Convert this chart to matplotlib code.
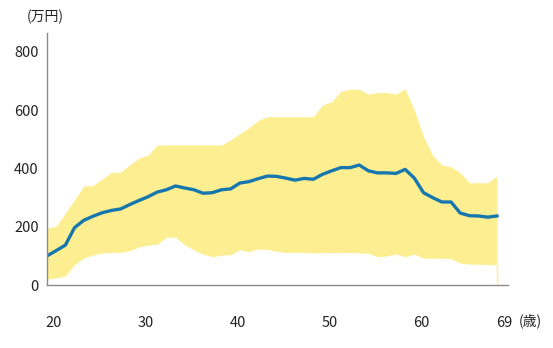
import matplotlib
matplotlib.use("Agg")
import matplotlib.pyplot as plt
import matplotlib.transforms as mtransforms
import numpy as np

# age 20..69
AGES = list(range(20, 70))
MEDIAN = [100, 118, 137, 197, 222, 236, 248, 256, 261, 276,
          290, 303, 319, 327, 340, 333, 327, 315, 317, 327,
          330, 350, 355, 365, 374, 373, 367, 360, 366, 363,
          380, 392, 403, 403, 412, 392, 385, 385, 383, 397,
          367, 317, 300, 285, 285, 247, 238, 237, 233, 237]
UPPER = [195, 202, 247, 292, 340, 341, 364, 386, 388, 412,
         436, 446, 481, 481, 481, 481, 481, 481, 481, 481,
         498, 520, 540, 565, 578, 578, 578, 578, 578, 578,
         618, 629, 665, 672, 672, 655, 661, 661, 656, 673,
         600, 510, 445, 412, 406, 385, 351, 351, 351, 374]
LOWER = [20, 25, 31, 70, 93, 103, 110, 112, 112, 118,
         131, 137, 140, 164, 164, 138, 120, 106, 97, 103,
         104, 122, 114, 124, 122, 116, 112, 112, 112, 110,
         111, 112, 111, 112, 110, 109, 97, 100, 106, 97,
         106, 92, 92, 92, 90, 75, 72, 71, 70, 69]
Y_TICKS = [0, 200, 400, 600, 800]
X_TICKS = [20, 30, 40, 50, 60, 69]

FILL = "#fdef91"
LINE = "#1677ae"
TEXT = "#222222"
FONTS = ["Noto Sans CJK JP", "DejaVu Sans"]

plt.rcParams["font.family"] = FONTS

fig = plt.figure(figsize=(5.53, 3.48), dpi=100)
ax = fig.add_axes([0.085, 0.181, 0.8336, 0.724])

ax.fill_between(AGES, LOWER, UPPER, color=FILL, lw=0)
ax.vlines(AGES[-1], 0, LOWER[-1], color=FILL, lw=1)
ax.plot(AGES, MEDIAN, color=LINE, lw=2.4, solid_joinstyle="round")

ax.set_xlim(20, 70.2)
ax.set_ylim(0, 865)

for side in ["top", "right"]:
    ax.spines[side].set_visible(False)
for side in ["left", "bottom"]:
    ax.spines[side].set_color("#8a8a8a")
    ax.spines[side].set_linewidth(1)

ax.set_yticks(Y_TICKS)
ax.set_yticklabels([str(v) for v in Y_TICKS])
ax.tick_params(axis="y", length=0, pad=6, labelsize=10.5, labelcolor=TEXT)

ax.set_xticks(X_TICKS)
ax.set_xticklabels([str(v) for v in X_TICKS])
ax.tick_params(axis="x", length=0, pad=22, labelsize=10.5, labelcolor=TEXT)
shift = mtransforms.ScaledTranslation(0.07, 0, fig.dpi_scale_trans)
for lab in ax.get_xticklabels():
    lab.set_transform(lab.get_transform() + shift)

fig.text(45 / 553, 1 - 17 / 348, "(万円)", ha="center", va="center",
         fontsize=10, color=TEXT)
fig.text(530 / 553, 1 - 321 / 348, "(歳)", ha="center", va="center",
         fontsize=10, color=TEXT)

fig.savefig("out.png", dpi=100)
